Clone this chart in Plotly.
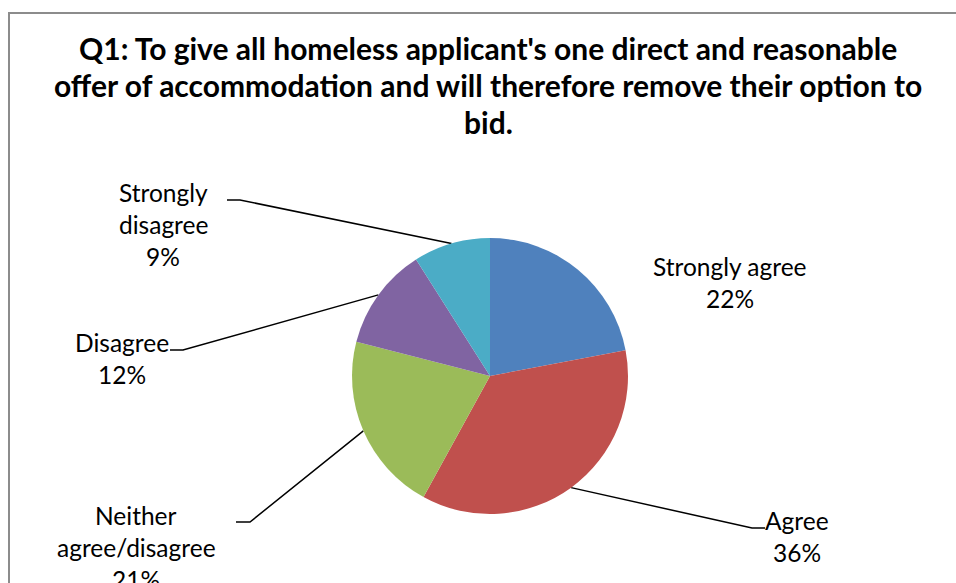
import math
import plotly.graph_objects as go

# ---- data ----
categories = ["Strongly agree", "Agree", "Neither agree/disagree", "Disagree", "Strongly disagree"]
values = [22, 36, 21, 12, 9]
colors = ["#4F81BD", "#C0504D", "#9BBB59", "#8064A2", "#4BACC6"]
# label text split into display lines (wrapping as in the reference)
label_lines = [["Strongly agree"], ["Agree"], ["Neither", "agree/disagree"], ["Disagree"], ["Strongly", "disagree"]]
title_lines = [
    "Q1: To give all homeless applicant's one direct and reasonable",
    "offer of accommodation and will therefore remove their option to",
    "bid.",
]

# ---- layout (pixel space) ----
W, H = 956, 583
CX, CY, R = 490, 376, 138
FONT = "Lato"
LABEL_SIZE = 24.5
LINE_H = 32
# label block centre x and first-line centre y
label_pos = [(730, 266), (797, 520), (136, 515), (122, 342), (163, 192)]
# leader line: elbow point and end point (None = no leader)
leader = [None, ((752, 528), (765, 528)), ((250, 522), (236, 522)), ((183, 350), (170, 350)), ((240, 200), (227, 200))]

fig = go.Figure()

fig.add_trace(go.Pie(
    labels=categories, values=values, sort=False, direction="clockwise", rotation=0,
    marker=dict(colors=colors, line=dict(color="white", width=0)),
    textinfo="none", hoverinfo="label+percent", showlegend=False,
    domain=dict(x=[(CX - R) / W, (CX + R) / W], y=[1 - (CY + R) / H, 1 - (CY - R) / H]),
))

total = sum(values)
cum = 0
annotations = []
for i, v in enumerate(values):
    mid = (cum + v / 2) / total
    cum += v
    th = 2 * math.pi * mid
    ex, ey = CX + R * math.sin(th), CY - R * math.cos(th)
    if leader[i] is not None:
        (bx, by), (tx, ty) = leader[i]
        fig.add_trace(go.Scatter(x=[ex, bx, tx], y=[ey, by, ty], mode="lines",
                                 line=dict(color="black", width=1.5), hoverinfo="skip", showlegend=False))
    pct = f"{round(100 * v / total)}%"
    lines = label_lines[i] + [pct]
    lx, ly = label_pos[i]
    for k, t in enumerate(lines):
        annotations.append(dict(x=lx, y=ly + k * LINE_H, xref="x", yref="y", text=t, showarrow=False,
                                font=dict(family=FONT, size=LABEL_SIZE, color="black"),
                                xanchor="center", yanchor="middle"))

for k, t in enumerate(title_lines):
    annotations.append(dict(x=488, y=48 + k * 37, xref="x", yref="y", text=f"<b>{t}</b>", showarrow=False,
                            font=dict(family=FONT, size=30, color="black"),
                            xanchor="center", yanchor="middle"))

fig.update_layout(
    width=W, height=H, autosize=False,
    margin=dict(l=0, r=0, t=0, b=0),
    paper_bgcolor="white", plot_bgcolor="rgba(0,0,0,0)",
    xaxis=dict(range=[0, W], visible=False, fixedrange=True),
    yaxis=dict(range=[H, 0], visible=False, fixedrange=True),
    annotations=annotations,
    shapes=[dict(type="rect", xref="x", yref="y", x0=9, y0=13, x1=W + 10, y1=H + 10,
                 line=dict(color="#8C8C8C", width=2), fillcolor="rgba(0,0,0,0)", layer="below")],
)

fig.write_html("out.html")
